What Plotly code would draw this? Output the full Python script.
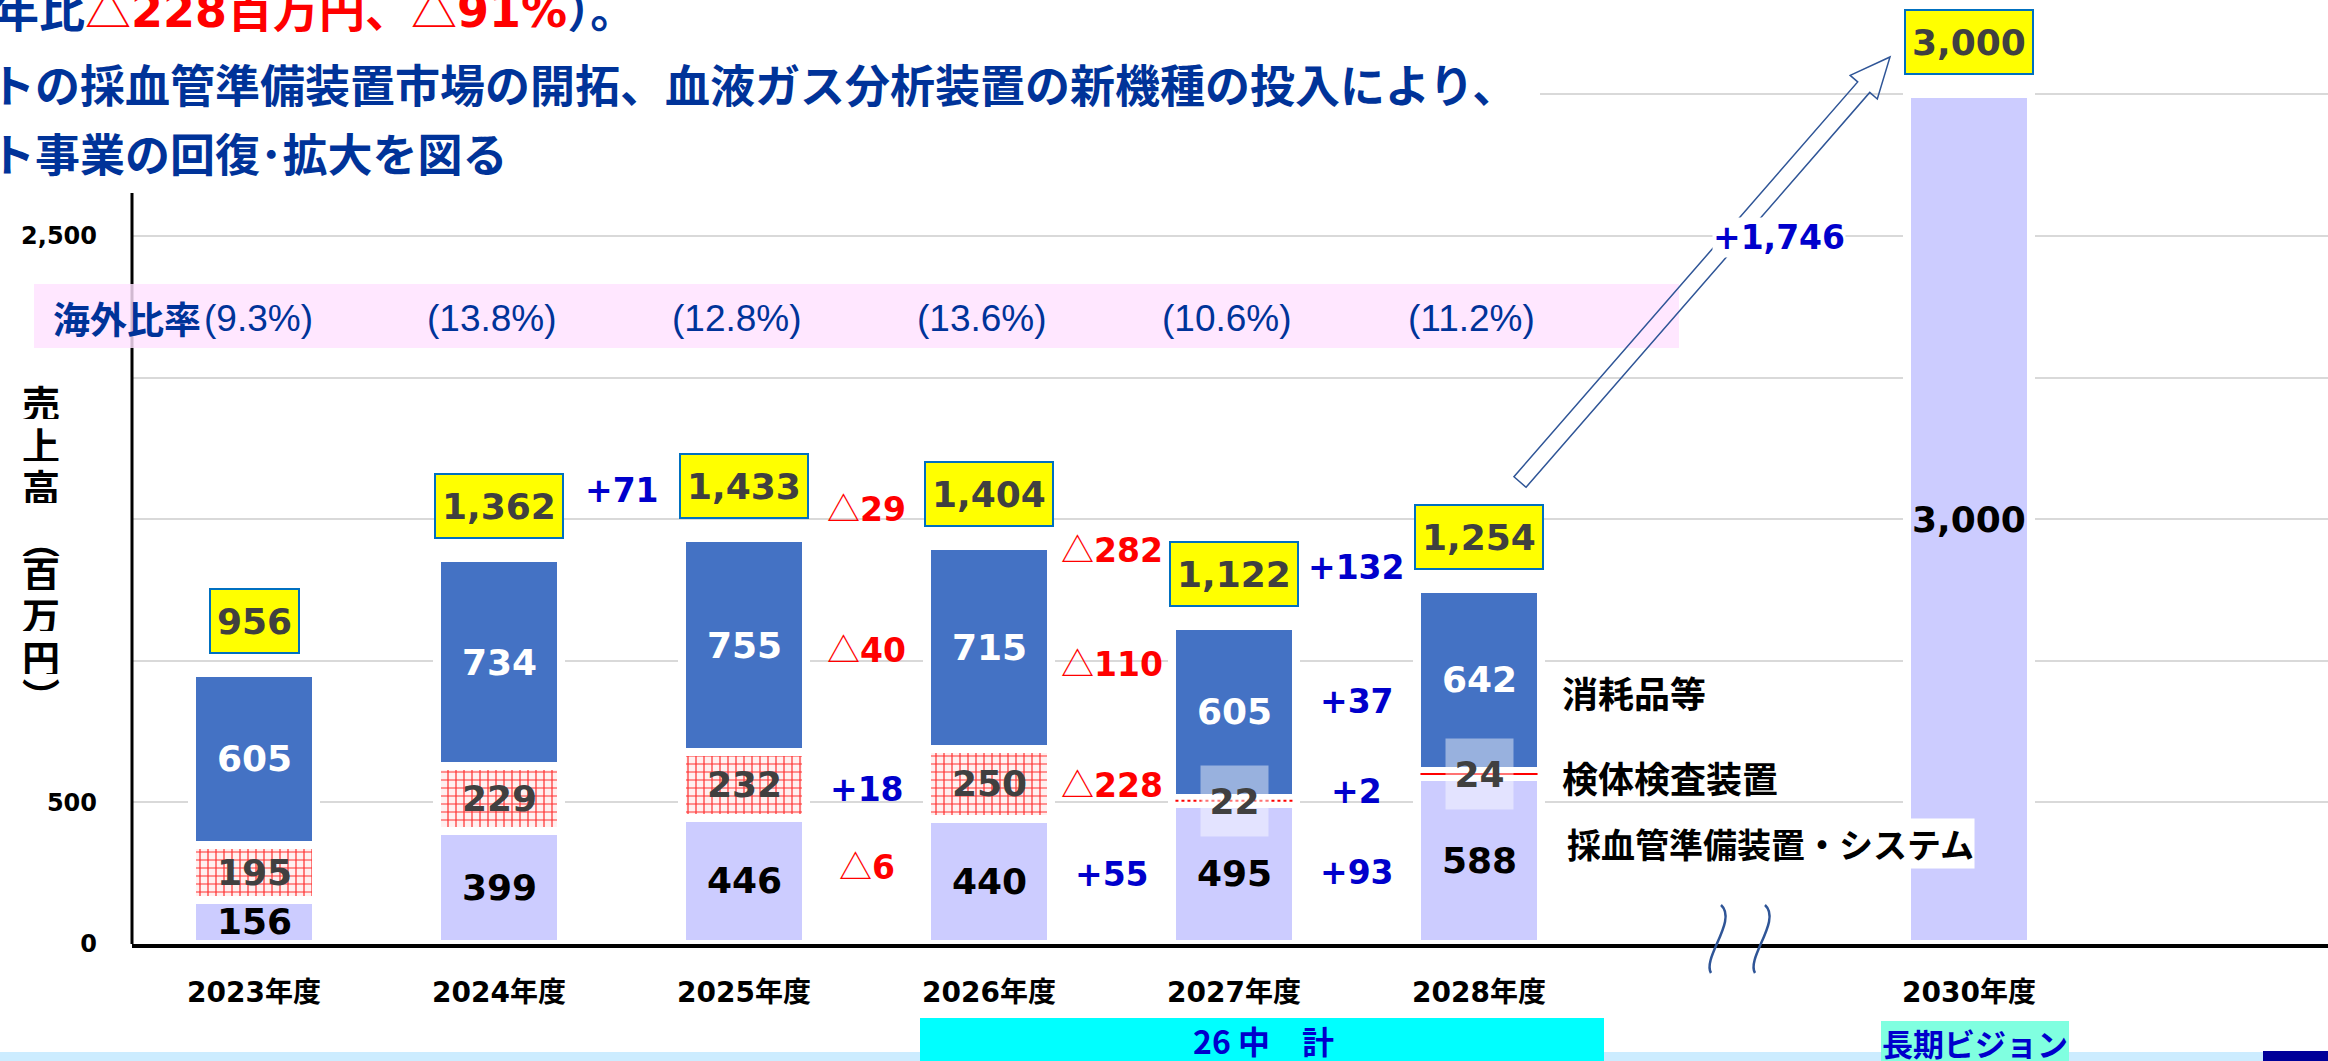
import math
import plotly.graph_objects as go

# ---------------- data ----------------
years = ["2023年度", "2024年度", "2025年度", "2026年度", "2027年度", "2028年度", "2030年度"]
year_pos = [0, 1, 2, 3, 4, 5, 7]
blood_collection = [156, 399, 446, 440, 495, 588]     # 採血管準備装置・システム
specimen_testing = [195, 229, 232, 250, 22, 24]       # 検体検査装置
consumables = [605, 734, 755, 715, 605, 642]          # 消耗品等
totals = [956, 1362, 1433, 1404, 1122, 1254]
vision_2030_total = 3000
overseas_ratio = [9.3, 13.8, 12.8, 13.6, 10.6, 11.2]
y_tick_vals = [0, 500, 1000, 1500, 2000, 2500, 3000]
y_tick_text = ["0", "500", "", "", "", "2,500", ""]

series_names = ["採血管準備装置・システム", "検体検査装置", "消耗品等"]

# ---------------- layout constants (pixels of the 2328x1061 page) ----------------
W, H = 2328, 1061
PL, PR, PT, PB = 132, 2328, 0, 944          # plot area
PX_PER_UNIT = 0.2832                         # vertical px per 百万円
CAT_PX = 245                                 # px per category step
X0 = -(254 - PL) / CAT_PX
x_range = [X0, X0 + (PR - PL) / CAT_PX]
y_range = [0, (PB - PT) / PX_PER_UNIT]


def xp(px):
    return (px - PL) / (PR - PL)


def yp(py):
    return (PB - py) / (PB - PT)


NUM_FONT = "DejaVu Sans, Noto Sans CJK JP"
JP_FONT = "Noto Sans CJK JP"
NAVY = "#003399"
PLUS_BLUE = "#0000CC"
RED = "#FF0000"
C_BASE = "#CCCCFF"
C_TOP = "#4472C4"
THIN_TRI = "font-family:Noto Sans CJK JP;font-weight:normal"

# label y-positions for the change labels (layout only)
total_delta_y = [1600, 1543, 1398, 1331]
cons_delta_y = [1045, 996, 855]
test_delta_y = [544, 569, 537]
coll_delta_y = [279, 244, 251]

fig = go.Figure()

bar_w = 0.51
outline = dict(color="white", width=8)

fig.add_trace(go.Bar(
    x=year_pos, y=blood_collection + [vision_2030_total], width=bar_w,
    marker=dict(color=C_BASE, line=outline), name=series_names[0], hoverinfo="skip"))
fig.add_trace(go.Bar(
    x=year_pos[:6], y=specimen_testing, width=bar_w,
    marker=dict(color="white", line=outline,
                pattern=dict(shape="+", fgcolor="#FF3030", bgcolor="#FFF0F0",
                             size=8, solidity=0.28, fillmode="replace")),
    name=series_names[1], hoverinfo="skip"))
fig.add_trace(go.Bar(
    x=year_pos[:6], y=consumables, width=bar_w,
    marker=dict(color=C_TOP, line=outline), name=series_names[2], hoverinfo="skip"))

ann = []
shapes = []

# ---------- header (cropped slide text) ----------
shapes.append(dict(type="rect", xref="paper", yref="paper", x0=xp(-20), x1=xp(1540),
                   y0=yp(182), y1=yp(-5), fillcolor="white", line=dict(width=0), layer="above"))
ann.append(dict(xref="paper", yref="paper", x=xp(-9), y=yp(7), xanchor="left", yanchor="middle",
                showarrow=False, font=dict(family=NUM_FONT, size=46, color=NAVY),
                text=('<b>年比<span style="color:#FF0000">'
                      f'<span style="{THIN_TRI}">△</span>228百万円、<span style="{THIN_TRI}">△</span>91%'
                      '</span>）。</b>')))
ann.append(dict(xref="paper", yref="paper", x=xp(-12), y=yp(84), xanchor="left", yanchor="middle",
                showarrow=False, font=dict(family=JP_FONT, size=45, color=NAVY),
                text="<b>トの採血管準備装置市場の開拓、血液ガス分析装置の新機種の投入により、</b>"))
ann.append(dict(xref="paper", yref="paper", x=xp(-12), y=yp(152), xanchor="left", yanchor="middle",
                showarrow=False, font=dict(family=JP_FONT, size=45, color=NAVY),
                text="<b>ト事業の回復･拡大を図る</b>"))

# ---------- y axis line (stops below the header) ----------
shapes.append(dict(type="line", xref="paper", yref="paper", x0=0, x1=0, y0=0, y1=yp(193),
                   line=dict(color="black", width=3), layer="above"))

# ---------- overseas ratio band ----------
shapes.append(dict(type="rect", xref="paper", yref="paper", x0=xp(34), x1=xp(1679),
                   y0=yp(348), y1=yp(284), fillcolor="rgba(255,226,255,0.82)",
                   line=dict(width=0), layer="above"))
ann.append(dict(xref="paper", yref="paper", x=xp(203), y=yp(318), xanchor="right", yanchor="middle",
                showarrow=False, font=dict(family=JP_FONT, size=37, color=NAVY), text="<b>海外比率</b>"))
for i, r in enumerate(overseas_ratio):
    ann.append(dict(xref="x", yref="paper", x=year_pos[i] + (0.02 if i == 0 else -0.03), y=yp(318),
                    xanchor="center", yanchor="middle", showarrow=False,
                    font=dict(family="Liberation Sans", size=37, color=NAVY), text=f"({r:.1f}%)"))

# ---------- y axis title (vertical) ----------
title_chars = ["売", "上", "高", "︵", "百", "万", "円", "︶"]
title_py = [401, 443, 485, 538, 572, 613, 656, 694]
for ch, py in zip(title_chars, title_py):
    ann.append(dict(xref="paper", yref="paper", x=xp(41), y=yp(py), xanchor="center", yanchor="middle",
                    showarrow=False, font=dict(family=JP_FONT, size=38, color="black"),
                    text=f"<b>{ch}</b>", height=36, borderpad=0))

# ---------- segment labels ----------
for i in range(6):
    b, t, c = blood_collection[i], specimen_testing[i], consumables[i]
    ann.append(dict(x=year_pos[i], y=b / 2, showarrow=False, xanchor="center", yanchor="middle",
                    font=dict(family=NUM_FONT, size=36, color="black"), text=f"<b>{b:,}</b>"))
    d = dict(x=year_pos[i], y=b + t / 2, showarrow=False, xanchor="center", yanchor="middle",
             font=dict(family=NUM_FONT, size=36, color="#404040"), text=f"<b>{t:,}</b>")
    if t < 60:
        d.update(bgcolor="rgba(255,255,255,0.45)", width=63, height=66, borderpad=2)
    ann.append(d)
    ann.append(dict(x=year_pos[i], y=b + t + c / 2, showarrow=False, xanchor="center", yanchor="middle",
                    font=dict(family=NUM_FONT, size=36, color="white"), text=f"<b>{c:,}</b>"))
ann.append(dict(x=year_pos[6], y=vision_2030_total / 2, showarrow=False, xanchor="center", yanchor="middle",
                font=dict(family=NUM_FONT, size=36, color="black"), text=f"<b>{vision_2030_total:,}</b>"))

# tiny middle segments drawn as a red line
mid_dash = {4: "dot", 5: "solid"}
for i in range(6):
    if specimen_testing[i] < 60:
        yc = blood_collection[i] + specimen_testing[i] / 2
        shapes.append(dict(type="line", xref="x", yref="y", x0=year_pos[i] - 0.239, x1=year_pos[i] + 0.239,
                           y0=yc, y1=yc, line=dict(color=RED, width=2, dash=mid_dash.get(i, "solid")),
                           layer="above"))

# ---------- total boxes ----------
for xv, tv in zip(year_pos, totals + [vision_2030_total]):
    ann.append(dict(x=xv, y=tv, yshift=52, showarrow=False, xanchor="center", yanchor="middle",
                    font=dict(family=NUM_FONT, size=36, color="#404040"), text=f"<b>{tv:,}</b>",
                    bgcolor="#FFFF00", bordercolor="#0070C0", borderwidth=2, borderpad=6, height=50))


# ---------- change labels ----------
def delta_text(v):
    if v >= 0:
        return f'<span style="color:{PLUS_BLUE}"><b>+{v:,}</b></span>'
    return (f'<span style="color:{RED};{THIN_TRI}">△</span>'
            f'<span style="color:{RED}"><b>{-v:,}</b></span>')


for k, i in enumerate(range(2, 6)):
    ann.append(dict(x=i - 0.5, y=total_delta_y[k], showarrow=False, xanchor="center", yanchor="middle",
                    font=dict(family=NUM_FONT, size=33), text=delta_text(totals[i] - totals[i - 1])))
for k, i in enumerate(range(3, 6)):
    for series, ys in ((consumables, cons_delta_y), (specimen_testing, test_delta_y),
                       (blood_collection, coll_delta_y)):
        ann.append(dict(x=i - 0.5, y=ys[k], showarrow=False, xanchor="center", yanchor="middle",
                        font=dict(family=NUM_FONT, size=33), text=delta_text(series[i] - series[i - 1])))

# ---------- arrow to 2030 ----------
T = (1520, 482)
P = (1890, 57)
L = math.hypot(P[0] - T[0], P[1] - T[1])
u = ((P[0] - T[0]) / L, (P[1] - T[1]) / L)
n = (-u[1], u[0])
w, hw, hl = 8, 18, 40
B = (P[0] - hl * u[0], P[1] - hl * u[1])
pts = [(T[0] + w * n[0], T[1] + w * n[1]), (B[0] + w * n[0], B[1] + w * n[1]),
       (B[0] + hw * n[0], B[1] + hw * n[1]), P,
       (B[0] - hw * n[0], B[1] - hw * n[1]), (B[0] - w * n[0], B[1] - w * n[1]),
       (T[0] - w * n[0], T[1] - w * n[1])]
path = "M " + " L ".join(f"{xp(a):.5f},{yp(b):.5f}" for a, b in pts) + " Z"
shapes.append(dict(type="path", xref="paper", yref="paper", path=path,
                   line=dict(color="#2F5597", width=1.5), fillcolor="rgba(0,0,0,0)", layer="above"))
ann.append(dict(xref="paper", yref="paper", x=xp(1779), y=yp(237), showarrow=False,
                xanchor="center", yanchor="middle",
                font=dict(family=NUM_FONT, size=33, color=PLUS_BLUE),
                text=f"<b>+{vision_2030_total - totals[-1]:,}</b>", bgcolor="white", borderpad=0))

# ---------- axis break marks ----------
for off in (0, 44):
    c = [(1721 + off, 905), (1738 + off, 920), (1702 + off, 958), (1711 + off, 973)]
    pth = (f"M {xp(c[0][0]):.5f},{yp(c[0][1]):.5f} C {xp(c[1][0]):.5f},{yp(c[1][1]):.5f} "
           f"{xp(c[2][0]):.5f},{yp(c[2][1]):.5f} {xp(c[3][0]):.5f},{yp(c[3][1]):.5f}")
    shapes.append(dict(type="path", xref="paper", yref="paper", path=pth,
                       line=dict(color="#2F5597", width=2.5), layer="above"))

# ---------- series labels ----------
ann.append(dict(xref="paper", yref="paper", x=xp(1560), y=yp(692), xanchor="left", yanchor="middle",
                showarrow=False, font=dict(family=JP_FONT, size=36, color="black"),
                text=f"<b>{series_names[2]}</b>"))
ann.append(dict(xref="paper", yref="paper", x=xp(1560), y=yp(777), xanchor="left", yanchor="middle",
                showarrow=False, font=dict(family=JP_FONT, size=36, color="black"),
                text=f"<b>{series_names[1]}</b>"))
ann.append(dict(xref="paper", yref="paper", x=xp(1566), y=yp(843), xanchor="left", yanchor="middle",
                showarrow=False, font=dict(family=JP_FONT, size=34, color="black"),
                text=f"<b>{series_names[0]}</b>", bgcolor="white", borderpad=0))

# ---------- bottom boxes ----------
shapes.append(dict(type="rect", xref="paper", yref="paper", x0=xp(-5), x1=xp(2264), y0=yp(1066), y1=yp(1052),
                   fillcolor="#CCECFF", line=dict(width=0), layer="above"))
shapes.append(dict(type="rect", xref="paper", yref="paper", x0=xp(920), x1=xp(1604), y0=yp(1066), y1=yp(1018),
                   fillcolor="#00FFFF", line=dict(width=0), layer="above"))
shapes.append(dict(type="rect", xref="paper", yref="paper", x0=xp(1881), x1=xp(2069), y0=yp(1066), y1=yp(1021),
                   fillcolor="#80FFE0", line=dict(width=0), layer="above"))
shapes.append(dict(type="rect", xref="paper", yref="paper", x0=xp(2263), x1=xp(2335), y0=yp(1066), y1=yp(1051),
                   fillcolor="#000099", line=dict(width=0), layer="above"))
ann.append(dict(xref="paper", yref="paper", x=xp(1263), y=yp(1040), showarrow=False,
                xanchor="center", yanchor="middle",
                font=dict(family=JP_FONT, size=32, color=PLUS_BLUE), text="<b>26 中　計</b>"))
ann.append(dict(xref="paper", yref="paper", x=xp(1975), y=yp(1042), showarrow=False,
                xanchor="center", yanchor="middle",
                font=dict(family=JP_FONT, size=31, color=PLUS_BLUE), text="<b>長期ビジョン</b>"))

fig.update_layout(
    width=W, height=H, barmode="stack", showlegend=False,
    paper_bgcolor="white", plot_bgcolor="white",
    margin=dict(l=PL, r=W - PR, t=PT, b=H - PB, autoexpand=False),
    xaxis=dict(range=x_range, tickmode="array", tickvals=year_pos, ticktext=[f"<b>{y}</b>" for y in years],
               tickfont=dict(family=NUM_FONT, size=28, color="black"), showgrid=False, zeroline=False,
               showline=True, linecolor="black", linewidth=4, ticks="", ticklabelstandoff=20),
    yaxis=dict(range=y_range, tickmode="array", tickvals=y_tick_vals, ticktext=[f"<b>{t}</b>" for t in y_tick_text],
               tickfont=dict(family=NUM_FONT, size=24, color="black"), showgrid=True, gridcolor="#D9D9D9",
               gridwidth=2, zeroline=False, showline=False, ticks="", ticklabelstandoff=34),
    annotations=ann, shapes=shapes,
)

fig.write_html("out.html", config={"displayModeBar": False},
               post_script="document.body.style.margin='0';document.body.style.overflow='hidden';")
